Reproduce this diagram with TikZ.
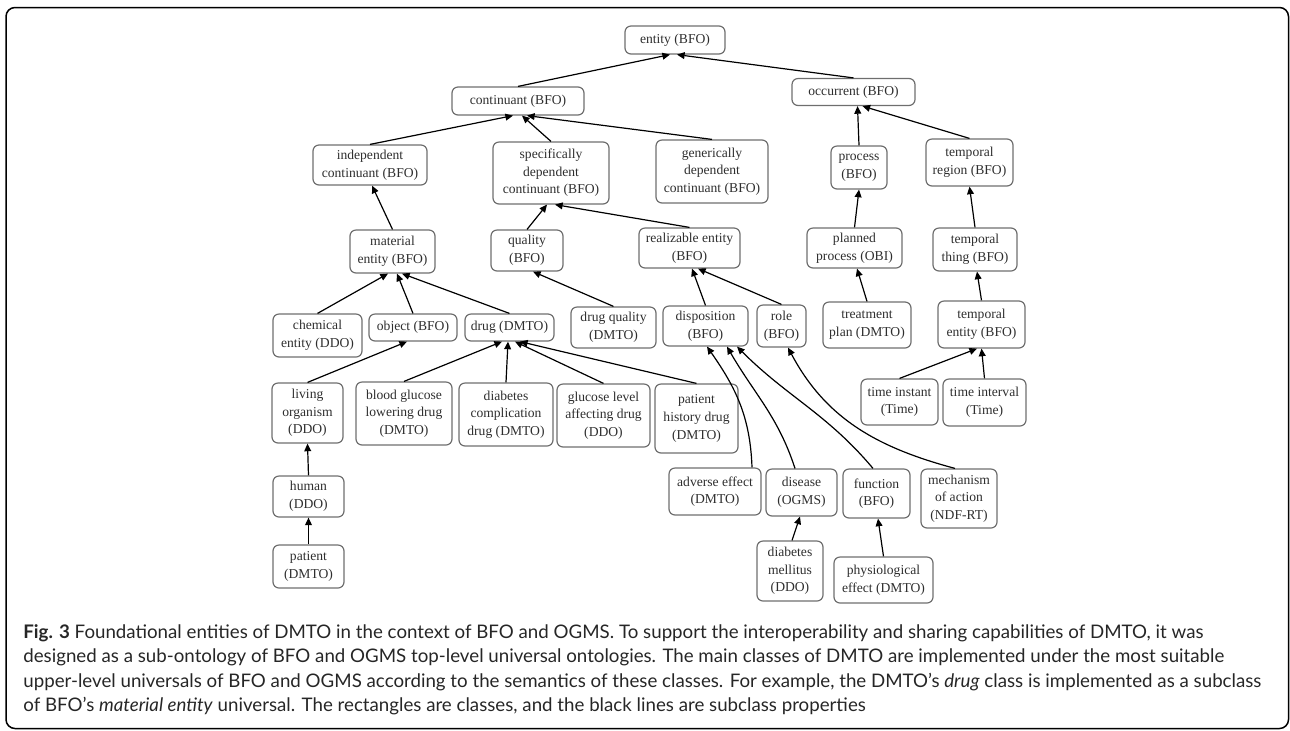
\documentclass[tikz,border=0pt]{standalone}
\usepackage{fontspec}
\setmainfont{Liberation Serif}
\newfontfamily\capfont{Lato}
\usetikzlibrary{arrows.meta}
\definecolor{boxline}{HTML}{6E6E6E}
\definecolor{boxtext}{HTML}{2E2E2E}
\tikzset{
  cls/.style={draw=boxline, line width=0.6pt, rounded corners=3pt, align=center,
    inner sep=1pt, text=boxtext, font=\fontsize{6.8}{8.8}\selectfont},
  wh/.style 2 args={minimum width=#1*0.5pt, minimum height=#2*0.5pt},
  sub/.style={-{Triangle[length=3.8pt,width=3.4pt]}, line width=0.6pt, black},
}
\begin{document}
\begin{tikzpicture}[x=0.5pt,y=-0.5pt]
\useasboundingbox (0,0) rectangle (1290,730);
\draw[line width=0.75pt, rounded corners=4.5pt] (6,7.5) rectangle (1288.5,728.5);
% top levels
\node[cls, wh={100}{28}] (entity) at (675,40) {entity (BFO)};
\node[cls, wh={132}{28}] (cont) at (518,101) {continuant (BFO)};
\node[cls, wh={123}{27}] (occ) at (853.5,92) {occurrent (BFO)};
\node[cls, wh={114}{40}] (indep) at (370,165) {independent\\continuant (BFO)};
\node[cls, wh={116}{62}] (specdep) at (551,173) {specifically\\dependent\\continuant (BFO)};
\node[cls, wh={112}{63}] (gendep) at (712,171.5) {generically\\dependent\\continuant (BFO)};
\node[cls, wh={56}{43}] (proc) at (859,167.5) {process\\(BFO)};
\node[cls, wh={87}{47}] (tregion) at (969.5,162.5) {temporal\\region (BFO)};
\node[cls, wh={85}{43}] (matent) at (392.5,251.5) {material\\entity (BFO)};
\node[cls, wh={72}{41}] (quality) at (527,250.5) {quality\\(BFO)};
\node[cls, wh={101}{40}] (realent) at (689.5,248) {realizable entity\\(BFO)};
\node[cls, wh={95}{40}] (pproc) at (854.5,248) {planned\\process (OBI)};
\node[cls, wh={84}{43}] (tthing) at (975,249.5) {temporal\\thing (BFO)};
% third row
\node[cls, wh={89}{43}] (chement) at (317.5,335.5) {chemical\\entity (DDO)};
\node[cls, wh={88}{27}] (object) at (413,327.5) {object (BFO)};
\node[cls, wh={89}{27}] (drug) at (509.5,327.5) {drug (DMTO)};
\node[cls, wh={85}{41}] (drugqual) at (613.5,327.5) {drug quality\\(DMTO)};
\node[cls, wh={85}{40}] (dispo) at (705.5,326) {disposition\\(BFO)};
\node[cls, wh={49}{42}] (role) at (781.5,326) {role\\(BFO)};
\node[cls, wh={88}{46}] (tplan) at (867,325) {treatment\\plan (DMTO)};
\node[cls, wh={87}{47}] (tentity) at (981.5,324.5) {temporal\\entity (BFO)};
% drugs and organisms
\node[cls, wh={71}{60}] (living) at (307.5,413) {living\\organism\\(DDO)};
\node[cls, wh={96}{63}] (bgdrug) at (404,413.5) {blood glucose\\lowering drug\\(DMTO)};
\node[cls, wh={94}{63}] (dcdrug) at (506,414.5) {diabetes\\complication\\drug (DMTO)};
\node[cls, wh={93}{63}] (gldrug) at (603.5,415.5) {glucose level\\affecting drug\\(DDO)};
\node[cls, wh={83}{69}] (phdrug) at (696.5,418.5) {patient\\history drug\\(DMTO)};
\node[cls, wh={77}{46}] (tinstant) at (899.5,402) {time instant\\(Time)};
\node[cls, wh={83}{47}] (tinterval) at (984.5,402.5) {time interval\\(Time)};
\node[cls, wh={71}{41}] (human) at (308.5,496.5) {human\\(DDO)};
\node[cls, wh={71}{43}] (patient) at (308.5,566.5) {patient\\(DMTO)};
% dispositions
\node[cls, wh={92}{47}] (adverse) at (715,491.5) {adverse effect\\(DMTO)};
\node[cls, wh={71}{47}] (disease) at (801.5,492.5) {disease\\(OGMS)};
\node[cls, wh={67}{49}] (function) at (876.5,493.5) {function\\(BFO)};
\node[cls, wh={76}{59}] (mechanism) at (959,498.5) {mechanism\\of action\\(NDF-RT)};
\node[cls, wh={66}{60}] (diabmel) at (790,571) {diabetes\\mellitus\\(DDO)};
\node[cls, wh={99}{46}] (physeff) at (883.5,580) {physiological\\effect (DMTO)};
% subclass lines
\draw[sub] (cont.north) -- ([xshift=-2.5pt]entity.south);
\draw[sub] (occ.north) -- ([xshift=1pt]entity.south);
\draw[sub] (indep.north) -- ([xshift=-2.5pt]cont.south);
\draw[sub] (specdep.north) -- ([xshift=2pt]cont.south);
\draw[sub] (gendep.north) -- ([xshift=4.5pt]cont.south);
\draw[sub] (proc.north) -- ([xshift=2pt]occ.south);
\draw[sub] (tregion.north) -- ([xshift=4.5pt]occ.south);
\draw[sub] (matent.north) -- ([xshift=1pt]indep.south);
\draw[sub] (quality.north) -- ([xshift=-2pt]specdep.south);
\draw[sub] (realent.north) -- ([xshift=2pt]specdep.south);
\draw[sub] (pproc.north) -- (proc.south);
\draw[sub] (tthing.north) -- (tregion.south);
\draw[sub] (chement.north) -- ([xshift=-2.25pt]matent.south);
\draw[sub] (object.north) -- ([xshift=2.25pt]matent.south);
\draw[sub] (drug.north) -- ([xshift=4.75pt]matent.south);
\draw[sub] (drugqual.north) -- ([xshift=3pt]quality.south);
\draw[sub] (dispo.north) -- ([xshift=1.25pt]realent.south);
\draw[sub] (role.north) -- ([xshift=4.25pt]realent.south);
\draw[sub] (tplan.north) -- ([xshift=1.25pt]pproc.south);
\draw[sub] (tentity.north) -- ([xshift=1pt]tthing.south);
\draw[sub] (living.north) -- ([xshift=-3pt]object.south);
\draw[sub] (bgdrug.north) -- ([xshift=-3.75pt]drug.south);
\draw[sub] (dcdrug.north) -- ([xshift=-0.75pt]drug.south);
\draw[sub] (gldrug.north) -- ([xshift=2.75pt]drug.south);
\draw[sub] (phdrug.north) -- ([xshift=5.25pt]drug.south);
\draw[sub] (human.north) -- (living.south);
\draw[sub] (patient.north) -- (human.south);
\draw[sub] (tinstant.north) -- ([xshift=-2.25pt]tentity.south);
\draw[sub] (tinterval.north) -- (tentity.south);
\draw[sub] ([xshift=18.5pt]adverse.north) to[out=92,in=-55] ([xshift=0.75pt]dispo.south);
\draw[sub] ([xshift=-3.25pt]disease.north) to[out=108,in=-60] ([xshift=10.75pt]dispo.south);
\draw[sub] ([xshift=-1.75pt]function.north) to[out=130,in=-45] ([xshift=15.75pt]dispo.south);
\draw[sub] ([xshift=-2pt]mechanism.north) to[out=165,in=-62] ([xshift=3.25pt]role.south);
\draw[sub] ([xshift=1pt]diabmel.north) -- ([xshift=-0.75pt]disease.south);
\draw[sub] (physeff.north) -- ([xshift=0.75pt]function.south);
% caption
\node[anchor=north west, align=left, inner sep=0pt, text=black!85,
  font=\capfont\fontsize{9.35}{10.9}\selectfont] (caption) at (23,624)
  {\textbf{Fig. 3} Foundational entities of DMTO in the context of BFO and OGMS. To support the interoperability and sharing capabilities of DMTO, it was\\[1.3pt]
   designed as a sub-ontology of BFO and OGMS top-level universal ontologies. The main classes of DMTO are implemented under the most suitable\\[1.3pt]
   upper-level universals of BFO and OGMS according to the semantics of these classes. For example, the DMTO’s \textit{drug} class is implemented as a subclass\\[1.3pt]
   of BFO’s \textit{material entity} universal. The rectangles are classes, and the black lines are subclass properties};
\end{tikzpicture}
\end{document}
